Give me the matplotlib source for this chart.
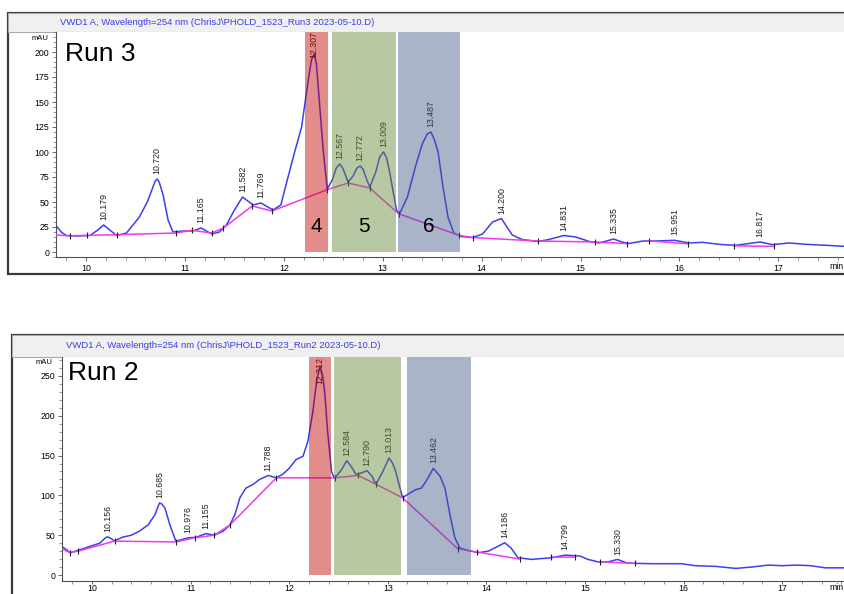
import numpy as np
import matplotlib
matplotlib.use("Agg")
import matplotlib.pyplot as plt
from matplotlib.patches import Rectangle
from matplotlib.ticker import MultipleLocator

plt.rcParams['font.family'] = ['Liberation Sans', 'DejaVu Sans']

W, H = 844, 594

# ---- Run 3 (top) ----
run3_title = "VWD1 A, Wavelength=254 nm (ChrisJ\\PHOLD_1523_Run3 2023-05-10.D)"
run3_t = [9.70, 9.75, 9.80, 9.90, 10.04, 10.12, 10.179, 10.24, 10.31, 10.41, 10.54, 10.62,
          10.67, 10.70, 10.72, 10.74, 10.78, 10.83, 10.88, 10.98, 11.08, 11.165, 11.27, 11.35,
          11.42, 11.49, 11.582, 11.69, 11.769, 11.89, 11.97, 12.03, 12.11, 12.18, 12.23, 12.26,
          12.28, 12.307, 12.33, 12.36, 12.40, 12.44, 12.49, 12.53, 12.567, 12.60, 12.65, 12.70,
          12.74, 12.772, 12.80, 12.84, 12.87, 12.93, 12.97, 13.009, 13.04, 13.07, 13.11, 13.14,
          13.17, 13.25, 13.33, 13.40, 13.45, 13.487, 13.52, 13.56, 13.61, 13.66, 13.72, 13.79,
          13.91, 14.01, 14.11, 14.20, 14.25, 14.31, 14.41, 14.57, 14.68, 14.831, 14.95, 15.09,
          15.19, 15.335, 15.42, 15.49, 15.63, 15.76, 15.951, 16.10, 16.23, 16.43, 16.57, 16.817,
          16.94, 17.11, 17.28, 17.48, 17.67]
run3_mau = [26, 20, 16.5, 16, 16.5, 22, 27, 22, 16.5, 19, 35, 50,
            63, 71, 73, 70, 57, 32, 20, 21, 21, 24, 18, 20,
            27, 40, 55, 47, 49, 42, 47, 70, 100, 125, 160, 180,
            192, 198, 188, 150, 100, 63, 72, 84, 88, 83, 70, 76,
            84, 86, 83, 72, 65, 80, 95, 100, 94, 80, 58, 42,
            38, 55, 85, 108, 118, 120, 113, 100, 65, 35, 19, 15.5,
            14.5, 18, 30, 33.5, 26, 17, 12.5, 10.5, 12.5, 16.5, 15, 10.5,
            9, 13, 10, 8.5, 11, 11, 11.7, 9, 9.7, 7.4, 6.7, 10,
            7.4, 9, 7.7, 6.7, 5.7]
run3_base_t = [9.69, 9.84, 10.01, 10.31, 10.91, 11.07, 11.27, 11.39, 11.68, 11.88, 12.44,
               12.65, 12.87, 13.16, 13.77, 13.91, 14.57, 15.15, 15.47, np.nan, 15.69, 16.09,
               np.nan, 16.55, 16.96]
run3_base_mau = [17, 16.3, 16.7, 17.3, 19, 21.7, 19, 24, 46, 41, 62.3,
                 69, 64, 38.3, 16.7, 14.4, 11, 10, 8.4, np.nan, 11.2, 8.2,
                 np.nan, 6.2, 5.6]
run3_peak_t = [10.179, 10.720, 11.165, 11.582, 11.769, 12.307, 12.567, 12.772, 13.009,
               13.487, 14.200, 14.831, 15.335, 15.951, 16.817]
run3_peak_mau = [27, 73, 24, 55, 49, 198, 88, 86, 100, 120, 33.5, 16.5, 13, 11.7, 10]
run3_regions = [(12.21, 12.45), (12.49, 13.13), (13.15, 13.78)]
run3_region_names = ["4", "5", "6"]

# ---- Run 2 (bottom) ----
run2_title = "VWD1 A, Wavelength=254 nm (ChrisJ\\PHOLD_1523_Run2 2023-05-10.D)"
run2_t = [9.69, 9.74, 9.78, 9.86, 9.98, 10.08, 10.13, 10.156, 10.19, 10.23, 10.31, 10.40,
          10.48, 10.57, 10.64, 10.67, 10.685, 10.71, 10.74, 10.79, 10.85, 10.94, 10.976, 11.06,
          11.155, 11.24, 11.33, 11.40, 11.45, 11.50, 11.56, 11.63, 11.70, 11.788, 11.87, 11.94,
          12.00, 12.07, 12.14, 12.19, 12.24, 12.28, 12.312, 12.34, 12.36, 12.39, 12.43, 12.46,
          12.53, 12.584, 12.63, 12.68, 12.73, 12.790, 12.84, 12.88, 12.95, 13.013, 13.05, 13.08,
          13.15, 13.20, 13.28, 13.34, 13.39, 13.462, 13.53, 13.58, 13.63, 13.68, 13.73, 13.81,
          13.92, 14.02, 14.10, 14.186, 14.25, 14.32, 14.46, 14.66, 14.799, 14.95, 15.03, 15.14,
          15.24, 15.330, 15.42, 15.51, 15.71, 15.98, 16.12, 16.32, 16.53, 16.69, 16.86, 17.00,
          17.14, 17.29, 17.44, 17.63]
run2_mau = [36, 32, 28, 31, 36, 40, 46, 48, 46, 43, 47.5, 50,
            55, 63, 76, 86, 90.5, 89, 84, 63, 42.5, 45.5, 46.7, 47.5,
            52, 50, 55, 63, 76, 97, 109, 113.5, 120, 125, 122, 127,
            134, 145, 149, 168, 205, 245, 262, 250, 230, 180, 130, 121,
            132, 143.6, 136, 126, 128, 131, 124, 114, 130, 147, 140, 130,
            97, 101, 107, 109, 118, 134, 124, 109, 76, 47, 34, 31,
            28, 30, 35, 40.5, 34, 21.7, 19.6, 21.7, 25, 23.8, 19.6, 16.3,
            16.7, 19.6, 15.4, 14.6, 14.2, 14.2, 11.7, 10.9, 8.3, 10, 12.5, 11.7,
            12.5, 11.7, 9, 9]
run2_base_t = [9.69, 9.78, 9.86, 10.23, 10.85, 11.04, 11.24, 11.40, 11.87, 12.46, 12.70,
               12.88, 13.15, 13.71, 13.90, 14.34, np.nan, 14.66, 14.90, np.nan, 15.15, 15.51]
run2_base_mau = [33, 28, 30, 42.6, 41.5, 46.7, 50, 63, 122, 122, 125,
                 114, 97, 33, 29, 20, np.nan, 22.5, 22.5, np.nan, 16.7, 14.5]
run2_peak_t = [10.156, 10.685, 10.976, 11.155, 11.788, 12.312, 12.584, 12.790, 13.013,
               13.462, 14.186, 14.799, 15.330]
run2_peak_mau = [48, 90.5, 46.7, 52, 125, 262, 143.6, 131, 147, 134, 40.5, 25, 19.6]
run2_regions = [(12.20, 12.42), (12.45, 13.13), (13.19, 13.84)]

# overlay colours, drawn at alpha 0.45 so the trace and labels show through tinted
region_colors = ['#c10000', '#638732', '#445a87']
trace_color = '#3d3df2'
base_color = '#f03ae6'


def fig_rect(x0, y0, x1, y1):
    return [x0 / W, 1 - y1 / H, (x1 - x0) / W, (y1 - y0) / H]


def draw_frame(fig, x0, y0, x1, y1, header_bottom, title, title_x):
    fig.patches.append(Rectangle((x0 / W, 1 - y1 / H), (x1 - x0) / W, (y1 - y0) / H,
                                 transform=fig.transFigure, facecolor='white',
                                 edgecolor='#3a3a3a', lw=1.6, zorder=-2))
    fig.patches.append(Rectangle((x0 / W, 1 - header_bottom / H), (x1 - x0) / W,
                                 (header_bottom - y0) / H, transform=fig.transFigure,
                                 facecolor='#f0f0f0', edgecolor='#a8a8a8', lw=0.8, zorder=-1))
    fig.text(title_x / W, 1 - (y0 + header_bottom) / 2 / H, title, color='#3b3bea',
             fontsize=6.8, va='center', ha='left')


def plot_run(fig, rect, xlim, ylim, t, mau, base_t, base_mau, peak_t, peak_mau,
             regions, ymajor, yminor, run_label, run_xy, mau_xy, min_xy,
             region_names=None, xpad=2, xlen=3):
    ax = fig.add_axes(fig_rect(*rect))
    ax.set_zorder(1)
    ax.set_xlim(*xlim)
    ax.set_ylim(*ylim)

    ax.plot(t, mau, color=trace_color, lw=1.1, zorder=2)
    ax.plot(base_t, base_mau, color=base_color, lw=1.1, zorder=3)
    bt = np.array(base_t[1:], dtype=float)
    bm = np.array(base_mau[1:], dtype=float)
    ok = ~np.isnan(bt)
    ax.plot(bt[ok], bm[ok], ls='none', marker='|', ms=5, mew=0.8, color='#202020', zorder=3)

    # peak retention-time labels
    px_per_unit = (rect[3] - rect[1]) / (ylim[1] - ylim[0])
    label_len = 30 / px_per_unit
    for pt, pm in zip(peak_t, peak_mau):
        if pm + label_len + 5 / px_per_unit > ylim[1]:
            ax.text(pt, ylim[1], f"{pt:.3f}", rotation=90, ha='center', va='top',
                    fontsize=6.3, color='#1e1e1e', zorder=4)
        else:
            ax.annotate(f"{pt:.3f}", (pt, pm), xytext=(0, 3.5), textcoords='offset points',
                        rotation=90, ha='center', va='bottom', fontsize=6.3,
                        color='#1e1e1e', zorder=4)

    # shaded fraction regions
    for (r0, r1), c in zip(regions, region_colors):
        ax.add_patch(Rectangle((r0, 0), r1 - r0, ylim[1], facecolor=c, alpha=0.45,
                               edgecolor='none', zorder=5))
    if region_names:
        for (r0, r1), name in zip(regions, region_names):
            ax.text((r0 + r1) / 2, 26, name, fontsize=15, ha='center', va='center',
                    color='black', zorder=6)

    for s in ['top', 'right']:
        ax.spines[s].set_visible(False)
    for s in ['left', 'bottom']:
        ax.spines[s].set_color('#505050')
        ax.spines[s].set_linewidth(0.8)

    ax.xaxis.set_major_locator(MultipleLocator(1))
    ax.xaxis.set_minor_locator(MultipleLocator(0.2))
    ax.yaxis.set_major_locator(MultipleLocator(ymajor))
    ax.yaxis.set_minor_locator(MultipleLocator(yminor))
    ax.tick_params(which='major', length=3, width=0.6, color='#505050', labelsize=6.3, pad=2)
    ax.tick_params(axis='x', which='major', length=xlen, pad=xpad)
    ax.tick_params(which='minor', length=2, width=0.5, color='#707070')
    ax.set_yticks([v for v in ax.get_yticks() if 0 <= v <= ylim[1]])
    ax.set_xticks(range(10, 18))

    fig.text(run_xy[0] / W, 1 - run_xy[1] / H, run_label, fontsize=19, va='baseline')
    fig.text(mau_xy[0] / W, 1 - mau_xy[1] / H, "mAU", fontsize=5.5, ha='center', va='center')
    fig.text(min_xy[0] / W, 1 - min_xy[1] / H, "min", fontsize=6.3, ha='left', va='center')
    return ax


if __name__ == "__main__":
    fig = plt.figure(figsize=(W / 100, H / 100), dpi=100)

    draw_frame(fig, 8, 13, 870, 274, 31.5, run3_title, 60)
    plot_run(fig, (56, 31.5, 844, 257), (9.697, 17.664), (-5, 220.5),
             run3_t, run3_mau, run3_base_t, run3_base_mau, run3_peak_t, run3_peak_mau,
             run3_regions, 25, 5, "Run 3", (65, 61), (40, 38), (829, 266),
             region_names=run3_region_names)

    draw_frame(fig, 12, 335, 870, 620, 357, run2_title, 66)
    plot_run(fig, (62, 357, 844, 581), (9.696, 17.627), (-7.5, 273.7),
             run2_t, run2_mau, run2_base_t, run2_base_mau, run2_peak_t, run2_peak_mau,
             run2_regions, 50, 10, "Run 2", (68, 380), (44, 363), (829, 588),
             xpad=0.3, xlen=2)

    fig.savefig("out.png", dpi=100)
